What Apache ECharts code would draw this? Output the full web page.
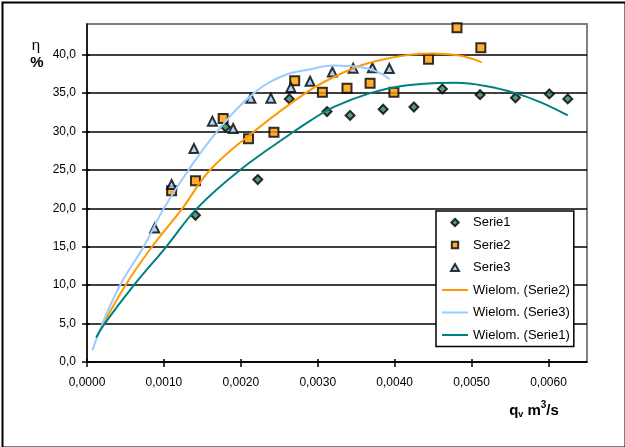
<!DOCTYPE html>
<html>
<head>
<meta charset="utf-8">
<script src="https://cdn.jsdelivr.net/npm/echarts@6/dist/echarts.min.js"></script>
<style>
html,body{margin:0;padding:0;background:#fff;}
#c{width:625px;height:447px;}
</style>
</head>
<body>
<div id="c"></div>
<script>
// ---- data ----
const xTicks = [0, 0.001, 0.002, 0.003, 0.004, 0.005, 0.006];
const yTicks = [0, 5, 10, 15, 20, 25, 30, 35, 40];

const serie1 = [[0.00141,19.1],[0.0018,30.6],[0.00222,23.75],[0.00263,34.25],[0.00312,32.6],[0.00342,32.1],[0.00385,32.9],[0.00425,33.2],[0.00462,35.55],[0.00511,34.8],[0.00557,34.4],[0.00601,34.9],[0.00625,34.25]];
const serie2 = [[0.0011,22.3],[0.00141,23.6],[0.00177,31.7],[0.0021,29.05],[0.00243,29.9],[0.0027,36.6],[0.00306,35.1],[0.00338,35.65],[0.00368,36.3],[0.00399,35.1],[0.00444,39.4],[0.00481,43.5],[0.00512,40.9]];
const serie3 = [[0.00088,17.45],[0.0011,23.1],[0.00139,27.8],[0.00163,31.35],[0.0019,30.4],[0.00213,34.35],[0.00239,34.35],[0.00265,35.75],[0.0029,36.55],[0.00319,37.75],[0.00346,38.25],[0.00371,38.3],[0.00393,38.2]];

const trend2 = [[0.0002,4.7],[0.0005,10.0],[0.000845,15.0],[0.00124,20.0],[0.0016,25.0],[0.00217,30.0],[0.00284,35.0],[0.00321,37.1],[0.00364,38.85],[0.0042,40.0],[0.0045,40.15],[0.0048,39.95],[0.00503,39.4],[0.00513,39.0]];
const trend3 = [[0.00007,1.5],[0.0002,5.0],[0.00043,10.0],[0.000735,15.0],[0.001,20.0],[0.00132,25.0],[0.00169,30.0],[0.00217,35.0],[0.00256,37.3],[0.0029,38.1],[0.00321,38.6],[0.00355,38.4],[0.00377,37.8],[0.003935,36.8]];
const trend1 = [[0.00012,3.2],[0.00023,5.0],[0.00061,10.0],[0.00103,15.0],[0.00143,20.0],[0.00199,25.0],[0.00269,30.0],[0.0029,31.4],[0.00321,33.2],[0.00368,35.0],[0.00407,35.9],[0.0045,36.3],[0.0048,36.35],[0.0052,35.9],[0.00557,35.0],[0.0059,33.8],[0.00625,32.1]];

const names = ['Serie1','Serie2','Serie3','Wielom. (Serie2)','Wielom. (Serie3)','Wielom. (Serie1)'];

const FONT = 'Liberation Sans, Arial, sans-serif';
const chart = echarts.init(document.getElementById('c'), null, {renderer:'canvas'});

const fmtX = v => v.toFixed(4).replace('.', ',');
const fmtY = v => v.toFixed(1).replace('.', ',');

// legend icons drawn in a 26x8 frame (the two leading moves fix the frame size)
const ICON_DIAMOND = 'path://M0,0M26,8M13,0.3L16.7,4L13,7.7L9.3,4Z';
const ICON_SQUARE = 'path://M0,0M26,8M9.8,0.8L16.2,0.8L16.2,7.2L9.8,7.2Z';
const ICON_TRI = 'path://M0,0M26,8M13,0.5L17,7.5L9,7.5Z';
const ICON_LINE = 'path://M0,0M26,8M0,3L26,3L26,5L0,5Z';

const option = {
  backgroundColor: '#fff',
  animation: false,
  grid: {left: 87, right: 38, top: 24, bottom: 85, show: true, borderColor: '#808080', borderWidth: 2, backgroundColor: 'transparent'},
  xAxis: [{
    type: 'value', min: 0, max: 0.0065, interval: 0.001,
    axisLine: {show: true, onZero: false, lineStyle: {color: '#000', width: 1.5}},
    axisTick: {show: true, length: 5, customValues: xTicks, lineStyle: {color: '#000', width: 1.5}},
    axisLabel: {customValues: xTicks, formatter: fmtX, color: '#000', fontFamily: FONT, fontSize: 12, margin: 15},
    splitLine: {show: false}
  },{
    type: 'value', min: 0, max: 0.0065, interval: 0.001, position: 'bottom',
    axisLine: {show: false},
    axisTick: {show: true, inside: true, length: 3, customValues: xTicks, lineStyle: {color: '#000', width: 1.5}},
    axisLabel: {show: false},
    splitLine: {show: false}
  }],
  yAxis: [{
    type: 'value', min: 0, max: 44, interval: 5,
    axisLine: {show: true, onZero: false, lineStyle: {color: '#000', width: 1.5}},
    axisTick: {show: true, length: 5, customValues: yTicks, lineStyle: {color: '#000', width: 1.5}},
    axisLabel: {customValues: yTicks, formatter: fmtY, color: '#000', fontFamily: FONT, fontSize: 12, margin: 11},
    splitLine: {show: true, lineStyle: {color: '#000', width: 1.5}}
  },{
    type: 'value', min: 0, max: 44, interval: 5, position: 'left',
    axisLine: {show: false},
    axisTick: {show: true, inside: true, length: 3, customValues: yTicks, lineStyle: {color: '#000', width: 1.5}},
    axisLabel: {show: false},
    splitLine: {show: false}
  }],
  legend: {
    orient: 'vertical', left: 436, top: 211, padding: [5, 4, 5, 5],
    itemGap: 9.5, itemWidth: 26, itemHeight: 8,
    backgroundColor: '#fff', borderColor: '#000', borderWidth: 1.5, borderRadius: 0,
    textStyle: {fontFamily: FONT, fontSize: 13, lineHeight: 13, color: '#000'},
    data: [
      {name: names[0], icon: ICON_DIAMOND},
      {name: names[1], icon: ICON_SQUARE},
      {name: names[2], icon: ICON_TRI},
      {name: names[3], icon: ICON_LINE},
      {name: names[4], icon: ICON_LINE},
      {name: names[5], icon: ICON_LINE}
    ]
  },
  series: [
    {name: names[0], type: 'scatter', data: serie1, symbol: 'diamond', symbolSize: 9, z: 3,
     itemStyle: {color: '#2d7f5e', borderColor: '#000', borderWidth: 2}},
    {name: names[1], type: 'scatter', data: serie2, symbol: 'rect', symbolSize: 9, z: 3,
     itemStyle: {color: '#ff9900', borderColor: '#000', borderWidth: 2}},
    {name: names[2], type: 'scatter', data: serie3, symbol: 'triangle', symbolSize: 9, z: 3,
     itemStyle: {color: '#99ccff', borderColor: '#000', borderWidth: 2}},
    {name: names[3], type: 'line', data: trend2, smooth: 0.4, symbol: 'none', z: 4,
     lineStyle: {color: '#ff9900', width: 2}, itemStyle: {color: '#ff9900'}},
    {name: names[4], type: 'line', data: trend3, smooth: 0.4, symbol: 'none', z: 4,
     lineStyle: {color: '#99ccff', width: 2}, itemStyle: {color: '#99ccff'}},
    {name: names[5], type: 'line', data: trend1, smooth: 0.4, symbol: 'none', z: 4,
     lineStyle: {color: '#008080', width: 2}, itemStyle: {color: '#008080'}}
  ],
  graphic: [
    {type: 'rect', left: 0, top: 0, z: 100, silent: true,
     shape: {x: 1, y: 1, width: 623, height: 445}, style: {fill: 'none', stroke: '#000', lineWidth: 2}},
    {type: 'text', z: 100, x: 36, y: 46,
     style: {text: 'η', fontFamily: FONT, fontSize: 15, fill: '#000', align: 'center', verticalAlign: 'middle'}},
    {type: 'text', z: 100, x: 37, y: 63,
     style: {text: '%', fontFamily: FONT, fontSize: 15, fontWeight: 'bold', fill: '#000', align: 'center', verticalAlign: 'middle'}},
    {type: 'text', z: 100, x: 534, y: 411,
     style: {
       text: '{a|q}{b|v}{a| m}{c|3}{a|/s}', align: 'center', verticalAlign: 'middle',
       rich: {
         a: {fontFamily: FONT, fontSize: 15, fontWeight: 'bold', fill: '#000', lineHeight: 22, verticalAlign: 'middle'},
         b: {fontFamily: FONT, fontSize: 9, fontWeight: 'bold', fill: '#000', lineHeight: 22, verticalAlign: 'bottom', padding: [0,0,3,0]},
         c: {fontFamily: FONT, fontSize: 10, fontWeight: 'bold', fill: '#000', lineHeight: 22, verticalAlign: 'top'}
       }
     }}
  ]
};
chart.setOption(option);
</script>
</body>
</html>
